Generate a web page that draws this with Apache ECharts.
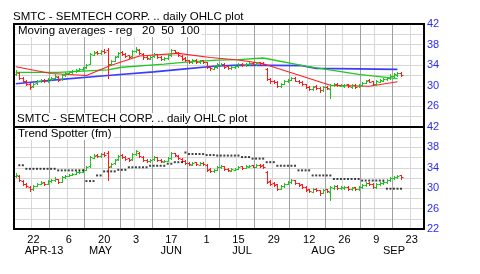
<!DOCTYPE html>
<html><head><meta charset="utf-8">
<script src="https://cdn.jsdelivr.net/npm/echarts@6/dist/echarts.min.js"></script>
<style>html,body{margin:0;padding:0;background:#fff}#c{width:480px;height:274px}</style>
</head><body><div id="c"></div>
<script>
// ---------- data ----------
const FIRST_DAY = '2013-04-15';
const LAST_DAY = '2013-09-26';
const HOLIDAYS = ['2013-05-27', '2013-07-04', '2013-09-02'];

const opens = [32.3,32.4,31.5,30.9,30.3,29.9,30.5,30.9,31.2,30.9,31.4,31.6,31.8,31.3,32.1,32.4,32.6,32.8,33.1,33.2,
33.6,34.3,36.0,36.5,36.3,36.8,36.9,34.3,34.9,35.7,36.5,36.2,35.9,35.7,36.8,37.0,36.2,35.6,35.3,35.7,
36.1,35.6,35.2,35.4,35.9,36.9,36.4,35.8,35.4,35.0,34.6,35.1,34.6,35.0,34.6,33.7,33.3,33.6,34.1,34.3,
33.8,33.4,33.6,33.8,34.3,34.0,34.2,34.5,34.2,34.6,34.5,33.2,31.4,31.0,30.8,29.9,30.4,30.9,31.2,31.6,
31.0,30.8,30.3,29.8,29.3,29.9,29.6,29.1,29.8,29.3,30.1,30.4,30.0,30.0,30.3,29.8,30.2,29.9,30.2,30.6,
31.1,30.9,30.3,30.8,31.0,31.3,31.6,32.0,32.1,32.5];
const highs = [33.0,32.6,31.7,31.1,30.5,30.6,31.1,31.4,31.3,31.6,31.8,32.2,31.9,32.3,32.6,32.8,33.0,33.3,33.5,33.7,
34.3,36.4,36.7,36.8,36.9,37.1,37.3,35.0,35.8,36.6,36.7,36.4,36.0,36.9,37.5,37.1,36.3,35.8,35.8,36.3,
36.2,35.7,35.6,36.1,37.1,37.0,36.5,35.9,35.5,35.1,35.2,35.2,35.1,35.1,34.7,33.9,33.8,34.4,34.5,34.4,
33.9,33.9,34.0,34.4,34.4,34.5,34.6,34.6,34.7,34.7,34.7,33.4,31.6,31.2,30.9,30.6,31.1,31.4,31.8,31.7,
31.1,30.9,30.4,29.9,30.0,30.1,29.7,29.9,29.9,30.4,30.6,30.6,30.4,30.4,30.4,30.3,30.3,30.4,30.8,31.2,
31.3,31.0,31.1,31.3,31.5,31.8,32.2,32.4,32.6,32.6];
const lows = [32.1,31.4,30.7,30.2,29.4,29.7,30.4,30.8,30.7,30.8,31.2,31.5,31.0,31.2,32.0,32.3,32.5,32.7,33.0,33.1,
33.5,34.2,35.9,36.1,36.2,36.3,31.6,34.1,34.8,35.6,36.0,35.6,35.4,35.6,36.6,36.1,35.3,35.2,35.2,35.6,
35.4,35.1,35.1,35.3,35.8,36.3,35.7,35.1,34.8,34.5,34.5,34.5,34.5,34.5,33.4,33.1,33.2,33.5,34.0,33.5,
33.3,33.3,33.5,33.7,33.8,33.9,34.1,34.1,34.1,34.2,34.0,31.1,30.6,30.5,29.7,29.8,30.3,30.8,31.1,30.9,
30.5,30.1,29.5,29.2,29.2,29.4,28.7,29.0,29.3,27.6,29.9,29.9,29.9,29.8,29.7,29.6,29.6,29.7,30.0,30.5,
30.7,30.1,30.1,30.7,30.9,31.1,31.4,31.8,32.0,31.9];
const closes = [32.6,31.6,30.9,30.4,29.8,30.4,30.9,31.1,30.9,31.4,31.6,31.9,31.2,32.1,32.4,32.6,32.8,33.1,33.2,33.5,
34.1,36.1,36.4,36.3,36.7,36.5,34.2,34.8,35.6,36.4,36.2,35.8,35.6,36.7,37.2,36.3,35.5,35.4,35.6,36.1,
35.6,35.3,35.4,35.9,36.9,36.5,35.9,35.3,35.0,34.7,35.0,34.7,34.9,34.7,33.6,33.4,33.6,34.2,34.3,33.7,
33.5,33.7,33.8,34.2,34.0,34.3,34.4,34.2,34.5,34.4,34.2,31.3,30.9,30.7,29.9,30.4,30.9,31.2,31.6,31.0,
30.7,30.3,29.7,29.4,29.8,29.6,29.1,29.7,29.5,30.2,30.4,30.1,30.2,30.2,29.9,30.1,29.8,30.2,30.6,31.0,
30.8,30.3,30.9,31.1,31.3,31.6,32.0,32.2,32.4,32.1];

// moving averages (date, value) – the chart draws them as straight runs
const ma20 = [['2013-04-15',33.7],['2013-04-29',32.4],['2013-05-13',32.0],['2013-05-22',34.0],['2013-06-04',35.8],
  ['2013-06-19',36.3],['2013-07-02',35.5],['2013-07-15',35.0],['2013-07-24',34.3],['2013-08-20',30.1],
  ['2013-09-05',29.9],['2013-09-17',30.8]];
const ma50 = [['2013-04-15',32.6],['2013-05-01',32.6],['2013-05-21',33.1],['2013-05-28',33.6],['2013-06-13',34.2],
  ['2013-06-21',34.6],['2013-07-05',35.0],['2013-07-15',35.1],['2013-07-24',35.4],['2013-08-09',33.8],
  ['2013-08-30',32.2],['2013-09-17',31.4]];
const ma100 = [['2013-04-15',30.4],['2013-05-01',31.2],['2013-05-21',32.0],['2013-06-10',32.7],['2013-06-21',33.3],
  ['2013-07-03',33.8],['2013-07-15',34.0],['2013-08-08',33.9],['2013-08-14',33.4],['2013-09-17',33.2]];

// Trend Spotter stop level, one per trading day
const trendSpotter = [null,34.5,34.5,33.8,33.8,33.8,33.8,33.8,33.8,33.8,33.8,33.8,
 33.5,33.5,33.5,33.5,33.5,33.5,33.5,33.5, 31.4,31.4,31.4, 32.5,32.5, 33.3,33.3,33.3,33.3,
 33.6,33.6,33.6, 34.1,34.1,34.1,34.1,34.1,34.1, 34.4,34.4,34.4,34.4,34.4, 34.8,34.8, 35.1,35.1,35.1,
 37.0, 36.7,36.7,36.7,36.7,36.7, 36.5,36.5,36.5, 36.4,36.4,36.4,36.4,36.4,36.4,36.4,
 36.1,36.1,36.1, 35.8,35.8,35.8,35.8, 35.1,35.1,35.1, 34.4,34.4,34.4,34.4,34.4,34.4,
 33.5,33.5,33.5,33.5, 32.5,32.5,32.5,32.5,32.5,32.5, 31.8,31.8,31.8,31.8,31.8,31.8,31.8,31.8,
 31.5,31.5,31.5,31.5,31.5,31.5,31.5, 29.9,29.9,29.9,29.9,29.9];

const eventDays = ['2013-05-21', '2013-08-20'];
const eventLevel = 22.8;

const dayLabelDates = ['2013-04-22','2013-05-06','2013-05-20','2013-06-03','2013-06-17','2013-07-01',
  '2013-07-15','2013-07-29','2013-08-12','2013-08-26','2013-09-09','2013-09-23'];
const dayLabels = ['22','6','20','3','17','1','15','29','12','26','9','23'];
const weekLineDates = ['2013-04-29','2013-05-13','2013-05-28','2013-06-10','2013-06-24','2013-07-08',
  '2013-07-22','2013-08-05','2013-08-19','2013-09-03','2013-09-16'];
const monthLabelDates = ['2013-04-25','2013-05-17','2013-06-17','2013-07-16','2013-08-16','2013-09-16'];
const monthLabels = ['APR-13','MAY','JUN','JUL','AUG','SEP'];

const titleText = 'SMTC - SEMTECH CORP. .. daily OHLC plot';
const panel1Text = 'Moving averages - reg   20  50  100';
const panel2Text = 'Trend Spotter (fm)';

// ---------- build ----------
function tradingDays() {
  const out = [];
  let d = new Date(FIRST_DAY + 'T00:00:00Z');
  const end = new Date(LAST_DAY + 'T00:00:00Z');
  while (d <= end) {
    const s = d.toISOString().slice(0, 10);
    const w = d.getUTCDay();
    if (w !== 0 && w !== 6 && !HOLIDAYS.includes(s)) out.push(s);
    d = new Date(d.getTime() + 86400000);
  }
  return out;
}
const dates = tradingDays();
const bars = closes.map((c, i) => [i, opens[i], c, lows[i], highs[i]]);
const trendData = trendSpotter.map((v, i) => [i, v]).filter(p => p[1] !== null);
const eventData = eventDays.map(d => [d, eventLevel]);

const GREEN = '#1ec41e', RED = '#ff1a1a';
const FONT = 'Liberation Sans, Arial, sans-serif';
const LIGHT = '#d6d6d6', DARK = '#a0a0a0';

function ohlc(params, api) {
  const i = api.value(0), o = api.value(1), c = api.value(2), l = api.value(3), h = api.value(4);
  const pH = api.coord([i, h]), pL = api.coord([i, l]), pO = api.coord([i, o]), pC = api.coord([i, c]);
  const x = Math.round(pH[0]) + 0.5;
  const yo = Math.round(pO[1]) + 0.5, yc = Math.round(pC[1]) + 0.5;
  const st = { stroke: c >= o ? GREEN : RED, lineWidth: 1 };
  return { type: 'group', children: [
    { type: 'line', shape: { x1: x, y1: Math.round(pH[1]), x2: x, y2: Math.round(pL[1]) + 1 }, style: st },
    { type: 'line', shape: { x1: x - 2, y1: yo, x2: x, y2: yo }, style: st },
    { type: 'line', shape: { x1: x, y1: yc, x2: x + 2, y2: yc }, style: st }
  ] };
}

const labelSet = new Set(dayLabelDates);
const weekSet = new Set(weekLineDates);
const monthSet = new Set(monthLabelDates);

function catAxis(grid, extra) {
  return Object.assign({
    type: 'category', gridIndex: grid, position: 'bottom', data: dates, boundaryGap: true,
    axisLine: { show: false }, axisTick: { show: false }, axisLabel: { show: false },
    splitLine: { show: false }
  }, extra);
}
function lightLines() { return { show: true, interval: (i, v) => labelSet.has(v), lineStyle: { color: LIGHT, width: 1 } }; }
function darkLines() { return { show: true, interval: (i, v) => weekSet.has(v), lineStyle: { color: DARK, width: 1 } }; }

function valAxis(grid, showBottom) {
  return {
    type: 'value', gridIndex: grid, min: 22, max: 42, interval: 2, position: 'right',
    axisLine: { show: false }, axisTick: { show: false },
    splitLine: { show: true, lineStyle: { color: LIGHT, width: 1 } },
    axisLabel: {
      margin: 3, color: '#2a2aff', fontSize: 11, fontFamily: FONT,
      formatter: v => ((v - 22) % 4 === 0 && (showBottom || v !== 22)) ? String(v) : ''
    }
  };
}

function titleBox(text, left, top, bg) {
  return { text, left, top, padding: bg ? [0, 2, 0, 2] : 0, backgroundColor: bg ? '#fff' : 'transparent',
    textStyle: { fontSize: 11.5, fontWeight: 'normal', color: '#000', fontFamily: FONT } };
}

const chart = echarts.init(document.getElementById('c'), null, { renderer: 'canvas' });
chart.setOption({
  animation: false,
  backgroundColor: '#fff',
  title: [
    titleBox(titleText, 13, 11, false),
    titleBox(panel1Text, 16, 25, true),
    titleBox(titleText, 15, 113, true),
    titleBox(panel2Text, 16, 128, true)
  ],
  grid: [
    { left: 14, top: 24, width: 410, height: 103, show: true, borderColor: '#000', borderWidth: 2, backgroundColor: 'transparent', z: 10, outerBoundsMode: 'none', containLabel: false },
    { left: 14, top: 127, width: 410, height: 102, show: true, borderColor: '#000', borderWidth: 2, backgroundColor: 'transparent', z: 10, outerBoundsMode: 'none', containLabel: false }
  ],
  xAxis: [
    catAxis(0, { splitLine: lightLines() }),
    catAxis(0, { splitLine: darkLines() }),
    catAxis(1, { splitLine: lightLines(), axisLabel: { show: true, interval: (i, v) => labelSet.has(v),
      formatter: v => dayLabels[dayLabelDates.indexOf(v)] || '', color: '#000', fontSize: 11, fontFamily: FONT, margin: 5 } }),
    catAxis(1, { splitLine: darkLines() }),
    catAxis(1, { axisLabel: { show: true, interval: (i, v) => monthSet.has(v),
      formatter: v => monthLabels[monthLabelDates.indexOf(v)] || '', color: '#000', fontSize: 11, fontFamily: FONT, margin: 16 } })
  ],
  yAxis: [ valAxis(0, false), valAxis(1, true) ],
  series: [
    { type: 'line', xAxisIndex: 0, yAxisIndex: 0, data: ma100, symbol: 'none', connectNulls: true,
      lineStyle: { color: '#3c3cff', width: 1.7 }, z: 2 },
    { type: 'line', xAxisIndex: 0, yAxisIndex: 0, data: ma50, symbol: 'none', connectNulls: true,
      lineStyle: { color: '#22c822', width: 1.3 }, z: 2 },
    { type: 'line', xAxisIndex: 0, yAxisIndex: 0, data: ma20, symbol: 'none', connectNulls: true,
      lineStyle: { color: '#ff2020', width: 1.1 }, z: 2 },
    { type: 'custom', xAxisIndex: 0, yAxisIndex: 0, data: bars, renderItem: ohlc, encode: { x: 0, y: [1, 2, 3, 4] }, z: 3 },
    { type: 'custom', xAxisIndex: 2, yAxisIndex: 1, data: bars, renderItem: ohlc, encode: { x: 0, y: [1, 2, 3, 4] }, z: 3 },
    { type: 'scatter', xAxisIndex: 2, yAxisIndex: 1, data: trendData, symbol: 'rect', symbolSize: 2,
      itemStyle: { color: '#111' }, z: 3 },
    { type: 'scatter', xAxisIndex: 2, yAxisIndex: 1, data: eventData, symbol: 'emptyTriangle', symbolSize: 4,
      itemStyle: { color: '#fff', borderColor: '#8aa88a', borderWidth: 1 }, z: 3 }
  ]
});
</script></body></html>
